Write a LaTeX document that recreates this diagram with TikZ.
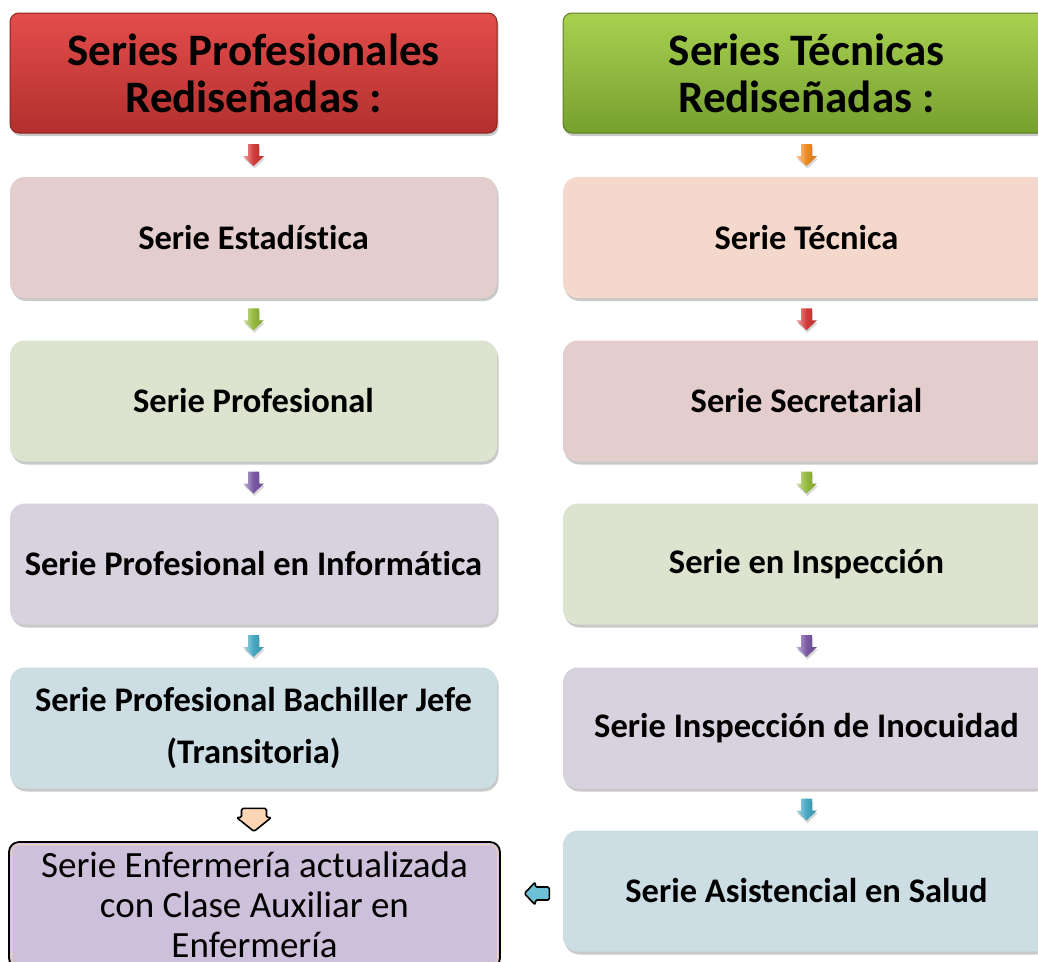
\documentclass[tikz,border=0pt]{standalone}
\usepackage{fontspec}
\setmainfont{Carlito}[Ligatures=NoCommon]
\usetikzlibrary{calc,shadows,shadings}
\definecolor{pinkbox}{HTML}{E4CDCD}
\definecolor{greenbox}{HTML}{DCE3CF}
\definecolor{lavbox}{HTML}{D8D2DE}
\definecolor{bluebox}{HTML}{CCDDE4}
\definecolor{peachbox}{HTML}{F5D8CC}
\definecolor{enfbox}{HTML}{CCC0DA}
\definecolor{redtop}{HTML}{E34D4B}
\definecolor{redbot}{HTML}{B2302E}
\definecolor{redbrd}{HTML}{8B2321}
\definecolor{grntop}{HTML}{A8D151}
\definecolor{grnbot}{HTML}{76A02E}
\definecolor{grnbrd}{HTML}{5E7F23}
\definecolor{ared}{HTML}{D23A38}
\definecolor{agreen}{HTML}{94B83A}
\definecolor{apurple}{HTML}{7A58A3}
\definecolor{acyan}{HTML}{46A7C2}
\definecolor{aorange}{HTML}{EE8A22}
\definecolor{apeach}{HTML}{FCD5B5}
\definecolor{acyanfill}{HTML}{6EC0D6}
\definecolor{innerline}{HTML}{F4D2B6}
\tikzset{
  x=1pt, y=-1pt,
  softshadow/.style={drop shadow={opacity=0.35, shadow xshift=1.5pt, shadow yshift=-3pt, fill=black!60}},
  header/.style={rounded corners=9pt, minimum width=487pt, minimum height=120pt,
    line width=1pt, softshadow, align=center, inner sep=0pt,
    font=\fontsize{45}{47}\selectfont\bfseries},
  row/.style={rounded corners=15pt, minimum width=487pt, minimum height=121pt,
    softshadow, align=center, inner sep=0pt,
    font=\fontsize{34.5}{40}\selectfont\bfseries},
  arrshade/.style={left color=#1!45!white, right color=#1!85!black, middle color=#1},
  darr/.pic={\path[pic actions, drop shadow={opacity=0.3, shadow xshift=1pt, shadow yshift=-2.5pt}]
      (-5.5,-11) -- (5.5,-11) -- (5.5,1) -- (10.5,1) -- (0,11) -- (-10.5,1) -- (-5.5,1) -- cycle;},
  odarr/.pic={\path[pic actions, line width=1.6pt, rounded corners=1.5pt, line join=round]
      (-12.5,-11.5) -- (12.5,-11.5) -- (12.5,-2.5) -- (17.5,-2.5) -- (0,11.5) -- (-17.5,-2.5) -- (-12.5,-2.5) -- cycle;},
  olarr/.pic={\path[pic actions, line width=1.6pt, rounded corners=1.5pt, line join=round]
      (12.5,-6.5) -- (12.5,6.5) -- (-1.5,6.5) -- (-1.5,11.5) -- (-12.5,0) -- (-1.5,-11.5) -- (-1.5,-6.5) -- cycle;},
}
\begin{document}
\begin{tikzpicture}
\clip (0,0) rectangle (1038,961);
\fill[white] (0,0) rectangle (1038,961);

% headers
\node[header, draw=redbrd, top color=redtop, bottom color=redbot] (h1) at (253.5,73) {Series Profesionales\\Rediseñadas :};
\node[header, draw=grnbrd, top color=grntop, bottom color=grnbot] (h2) at (806.5,73) {Series Técnicas\\Rediseñadas :};

% left column
\node[row, fill=pinkbox] (l1) at (253.5,237.5) {Serie Estadística};
\node[row, fill=greenbox] (l2) at (253.5,401) {Serie Profesional};
\node[row, fill=lavbox] (l3) at (253.5,564) {Serie Profesional en Informática};
\node[row, fill=bluebox, font=\fontsize{34.5}{52}\selectfont\bfseries] (l4) at (253.5,728) {Serie Profesional Bachiller Jefe\\(Transitoria)};

% right column
\node[row, fill=peachbox] (r1) at (806.5,237.5) {Serie Técnica};
\node[row, fill=pinkbox] (r2) at (806.5,401) {Serie Secretarial};
\node[row, fill=greenbox] (r3) at (806.5,564) {Serie en Inspección};
\node[row, fill=lavbox] (r4) at (806.5,728) {Serie Inspección de Inocuidad};
\node[row, fill=bluebox] (r5) at (806.5,891) {Serie Asistencial en Salud};

% final box
\node[draw=black, line width=1.8pt, fill=enfbox, rounded corners=10pt, minimum width=491pt, minimum height=126pt,
  align=center, inner sep=0pt, font=\fontsize{37}{40}\selectfont] (enf) at (254.5,905)
  {Serie Enfermería actualizada\\con Clase Auxiliar en\\Enfermería};
\draw[innerline, line width=0.8pt, rounded corners=8pt] ($(enf.north west)+(3.5,3.5)$) rectangle ($(enf.south east)+(-3.5,-3.5)$);

% arrows left
\path ($(h1.south)!.5!(l1.north)$) pic[arrshade=ared] {darr};
\path ($(l1.south)!.5!(l2.north)$) pic[arrshade=agreen] {darr};
\path ($(l2.south)!.5!(l3.north)$) pic[arrshade=apurple] {darr};
\path ($(l3.south)!.5!(l4.north)$) pic[arrshade=acyan] {darr};
\path ($(l4.south)!.5!(enf.north)+(0,5)$) pic[draw=black, fill=apeach] {odarr};

% arrows right
\path ($(h2.south)!.5!(r1.north)$) pic[arrshade=aorange] {darr};
\path ($(r1.south)!.5!(r2.north)$) pic[arrshade=ared] {darr};
\path ($(r2.south)!.5!(r3.north)$) pic[arrshade=agreen] {darr};
\path ($(r3.south)!.5!(r4.north)$) pic[arrshade=apurple] {darr};
\path ($(r4.south)!.5!(r5.north)$) pic[arrshade=acyan] {darr};
\path ($(enf.east |- r5.west)!.5!(r5.west)+(5,2.5)$) pic[draw=black, fill=acyanfill] {olarr};
\end{tikzpicture}
\end{document}
